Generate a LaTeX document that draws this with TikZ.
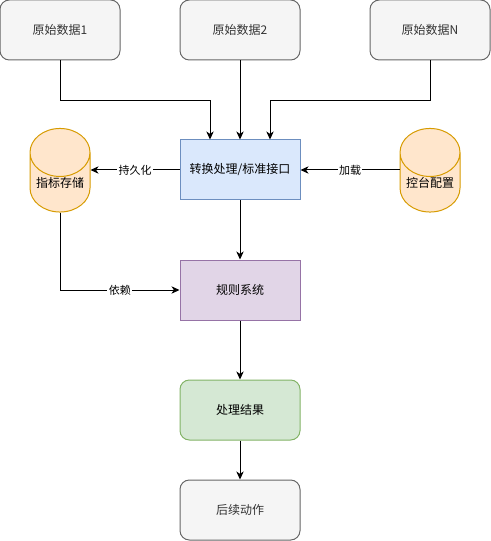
\documentclass[tikz,border=0pt]{standalone}
\usepackage{fontspec}
\setmainfont{Noto Sans CJK SC}
\usetikzlibrary{shapes.geometric,arrows.meta}
\definecolor{grayfill}{HTML}{F5F5F5}
\definecolor{graydraw}{HTML}{666666}
\definecolor{graytext}{HTML}{333333}
\definecolor{bluefill}{HTML}{DAE8FC}
\definecolor{bluedraw}{HTML}{6C8EBF}
\definecolor{purplefill}{HTML}{E1D5E7}
\definecolor{purpledraw}{HTML}{9673A6}
\definecolor{greenfill}{HTML}{D5E8D4}
\definecolor{greendraw}{HTML}{82B366}
\definecolor{orangefill}{HTML}{FFE6CC}
\definecolor{orangedraw}{HTML}{D79B00}

\begin{document}
\begin{tikzpicture}[
    x = 0.75pt, y = -0.75pt,
    every node/.style = {font = \fontsize{9pt}{11pt}\selectfont, line width = 0.75pt},
    box/.style = {draw, rectangle, minimum width = 90pt, minimum height = 45pt, inner sep = 0pt},
    soft/.style = {box, rounded corners = 7pt},
    source/.style = {soft, fill = grayfill, draw = graydraw, text = graytext},
    store/.style = {draw = orangedraw, fill = orangefill, shape = cylinder,
        shape border rotate = 90, aspect = 1, minimum width = 45pt,
        minimum height = 56.25pt, inner sep = 0pt},
    lbl/.style = {fill = white, inner sep = 1pt, font = \fontsize{8.25pt}{10pt}\selectfont},
    flow/.style = {line width = 0.75pt, -{Stealth[length = 6pt, width = 5.5pt, inset = 1.8pt]}}]

\useasboundingbox (0,0) rectangle (491,541);

% sources
\node[source] (data1) at (60,30) {原始数据1};
\node[source] (data2) at (240,30) {原始数据2};
\node[source] (dataN) at (430,30) {原始数据N};

% middle row
\node[box, fill = bluefill, draw = bluedraw] (conv) at (240,170) {转换处理/标准接口};
\node[store] (metric) at (60,182.5) {指标存储};
\node[store] (config) at (430,182.5) {控台配置};

% pipeline
\node[box, fill = purplefill, draw = purpledraw] (rules) at (240,290) {规则系统};
\node[soft, fill = greenfill, draw = greendraw] (result) at (240,410) {处理结果};
\node[source] (action) at (240,510) {后续动作};

\draw[flow] (data1.south) -- ++(0,40) -| ([xshift = -22.5pt]conv.north);
\draw[flow] (data2.south) -- (conv.north);
\draw[flow] (dataN.south) -- ++(0,40) -| ([xshift = 22.5pt]conv.north);
\draw[flow] (conv.west) -- node[lbl] {持久化} (conv.west -| metric.east);
\draw[flow] (conv.east -| config.west) -- node[lbl] {加载} (conv.east);
\draw[flow] (metric.south) |- node[lbl, pos = 0.75] {依赖} (rules.west);
\draw[flow] (conv.south) -- (rules.north);
\draw[flow] (rules.south) -- (result.north);
\draw[flow] (result.south) -- (action.north);
\end{tikzpicture}
\end{document}
